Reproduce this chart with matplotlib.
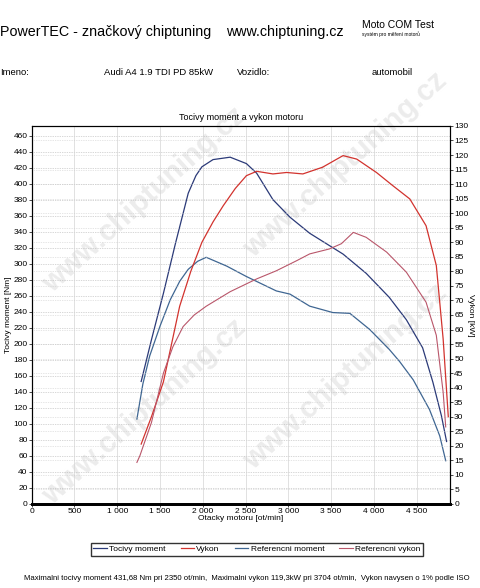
import matplotlib
matplotlib.use("Agg")
import matplotlib.pyplot as plt
import numpy as np

plt.rcParams['font.family'] = ['Liberation Sans', 'DejaVu Sans']

# torque curves [Nm] vs rpm
tq_rpm = [1280, 1400, 1540, 1680, 1830, 1920, 1990, 2120, 2320, 2510, 2630, 2820, 3020,
          3250, 3520, 3640, 3910, 4180, 4380, 4570, 4690, 4790, 4850]
tq_nm = [153, 205, 263, 325, 388, 410, 421, 430, 433, 425, 413, 380, 358,
         338, 320, 312, 288, 258, 230, 195, 152, 110, 78]

ref_tq_rpm = [1230, 1300, 1380, 1500, 1620, 1730, 1830, 1940, 2040, 2280, 2510, 2860, 3020, 3250,
              3520, 3720, 3950, 4180, 4300, 4460, 4650, 4770, 4840]
ref_tq_nm = [106, 150, 185, 222, 255, 278, 293, 303, 308, 297, 284, 266, 262, 247,
             239, 238, 218, 193, 178, 155, 118, 85, 54]

# power curves [kW] vs rpm
pw_rpm = [1280, 1400, 1540, 1730, 1860, 1990, 2120, 2240, 2380, 2510, 2630, 2820, 2980, 3170, 3400,
          3640, 3800, 4030, 4220, 4420, 4610, 4730, 4810, 4870]
pw_kw = [20.6, 30, 42, 68, 80, 90, 97, 102.6, 108.5, 112.9, 114.4, 113.5, 114, 113.5, 115.8,
         119.8, 118.6, 114, 109.5, 104.9, 95.7, 82, 56.7, 30]

ref_pw_rpm = [1230, 1265, 1400, 1540, 1650, 1770, 1900, 2040, 2320, 2630, 2860, 3100, 3250,
              3480, 3620, 3760, 3910, 4150, 4380, 4610, 4730, 4810, 4840]
ref_pw_kw = [14.3, 16.6, 28, 45, 54, 61, 65, 68, 73, 77.4, 80.2, 83.7, 86,
             87.7, 89.5, 93.4, 91.7, 86.6, 79.7, 69.4, 58, 38.4, 26.5]

x_ticks = list(range(0, 5000, 500))
x_labels = ['0', '500', '1 000', '1 500', '2 000', '2 500', '3 000', '3 500', '4 000', '4 500']
nm_ticks = list(range(0, 480, 20))
kw_ticks = list(range(0, 135, 5))

fig = plt.figure(figsize=(4.8, 5.88), dpi=100)

# watermark
for wx, wy in [(0.30, 0.30), (0.72, 0.36), (0.30, 0.66), (0.72, 0.72)]:
    fig.text(wx, wy, 'www.chiptuning.cz', rotation=42, fontsize=21, fontweight='bold',
             color='#ececec', ha='center', va='center', zorder=-5)

ax = fig.add_axes([0.066, 0.1429, 0.8715, 0.6429])
ax.patch.set_alpha(0)
ax2 = ax.twinx()

ax.set_xlim(0, 4890)
ax.set_ylim(0, 472)
ax2.set_ylim(0, 130)

for t in nm_ticks:
    ax.axhline(t, color='#b0b0b0', lw=0.5, ls=(0, (1, 1.5)), zorder=0)
for t in kw_ticks:
    ax2.axhline(t, color='#cccccc', lw=0.5, ls=(0, (1, 1.5)), zorder=0)
for t in x_ticks:
    ax.axvline(t, color='#d4d4d4', lw=0.5, zorder=0)

l1, = ax.plot(tq_rpm, tq_nm, color='#2b3a78', lw=0.9)
l3, = ax.plot(ref_tq_rpm, ref_tq_nm, color='#3f6692', lw=0.9)
l2, = ax2.plot(pw_rpm, pw_kw, color='#d2332e', lw=0.9)
l4, = ax2.plot(ref_pw_rpm, ref_pw_kw, color='#b9566a', lw=0.8)

ax.set_xticks(x_ticks)
ax.set_xticklabels(x_labels)
ax.set_yticks(nm_ticks)
ax2.set_yticks(kw_ticks)
ax.tick_params(labelsize=6, length=2, width=0.5, pad=1)
ax2.tick_params(labelsize=6, length=2, width=0.5, pad=1)

for a in (ax, ax2):
    for s in a.spines.values():
        s.set_linewidth(0.8)
    a.spines['bottom'].set_linewidth(2)

ax.set_xlabel('Otacky motoru [ot/min]', fontsize=6, labelpad=0)
ax.set_ylabel('Tocivy moment [Nm]', fontsize=6, labelpad=1)
ax2.set_ylabel('Vykon [kW]', fontsize=6, rotation=-90, labelpad=4)
ax.set_title('Tocivy moment a vykon motoru', fontsize=6.5, pad=4)

fig.legend([l1, l2, l3, l4], ['Tocivy moment', 'Vykon', 'Referencni moment', 'Referencni vykon'],
           loc='center', bbox_to_anchor=(0.535, 0.0655), ncol=4, fontsize=6,
           frameon=True, fancybox=False, edgecolor='black', handlelength=1.6,
           columnspacing=1.8, handletextpad=0.3, borderpad=0.3)

fig.text(0.0, 0.945, 'PowerTEC - značkový chiptuning', fontsize=10.3, va='center')
fig.text(0.471, 0.945, 'www.chiptuning.cz', fontsize=10.3, va='center')
fig.text(0.754, 0.958, 'Moto COM Test', fontsize=7.5, va='center')
fig.text(0.754, 0.942, 'systém pro měření motorů', fontsize=3.5, va='center')

fig.text(0.0, 0.877, 'Imeno:', fontsize=6.8, va='center')
fig.text(0.217, 0.877, 'Audi A4 1.9 TDI PD 85kW', fontsize=6.8, va='center')
fig.text(0.494, 0.877, 'Vozidlo:', fontsize=6.8, va='center')
fig.text(0.775, 0.877, 'automobil', fontsize=6.8, va='center')

fig.text(0.05, 0.017, 'Maximalni tocivy moment 431,68 Nm pri 2350 ot/min,  Maximalni vykon 119,3kW '
         'pri 3704 ot/min,  Vykon navysen o 1% podle ISO', fontsize=5.6, va='center')

fig.savefig('out.png', dpi=100, facecolor='white')
